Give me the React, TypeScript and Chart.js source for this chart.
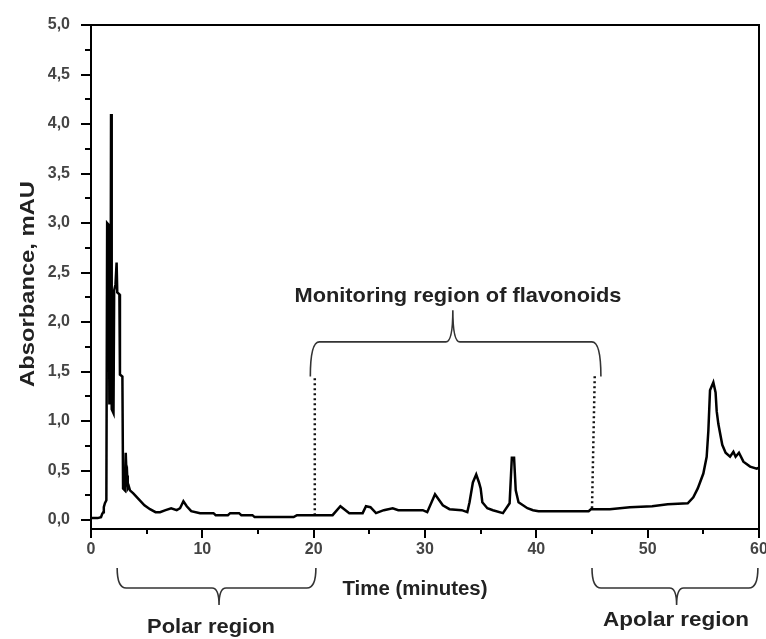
import React, { useEffect, useRef } from "react";
import { Chart, registerables } from "chart.js";

Chart.register(...registerables);

// ---- data ----
const timeMinutes = [
  0.0, 0.6, 0.9, 1.0, 1.1, 1.15, 1.25, 1.38, 1.45, 1.6, 1.65, 1.75, 1.8, 1.86, 2.02, 2.08, 2.2, 2.3, 2.36, 2.55,
  2.6, 2.82, 2.88, 3.05, 3.12, 3.2, 3.25, 3.3, 3.4, 3.5, 3.8, 4.3, 4.8, 5.3, 5.8, 6.2, 6.7, 7.2, 7.7,
  8.0, 8.3, 8.6, 9.0, 9.8, 11.0, 11.2, 12.3, 12.5, 13.3, 13.5, 14.5, 14.7, 18.2, 18.5, 21.7, 22.4, 23.2, 24.4, 24.7,
  25.1, 25.6, 26.3, 27.1, 27.6, 29.8, 30.2, 30.9, 31.6, 32.2, 33.3, 33.8, 34.0, 34.3, 34.6, 34.85, 35.0, 35.15, 35.6, 36.1,
  37.0, 37.6, 37.8, 38.0, 38.15, 38.4, 39.2, 39.7, 40.2, 44.7, 44.9, 46.6, 48.4, 50.4, 51.8, 53.6, 54.1, 54.5, 55.0, 55.3,
  55.45, 55.6, 55.9, 56.1, 56.2, 56.35, 56.7, 57.0, 57.4, 57.7, 57.9, 58.2, 58.6, 59.2, 59.8, 60.0,
];
const absorbance = [
  0.02, 0.02, 0.03, 0.06, 0.08, 0.13, 0.17, 0.2, 3.0, 2.98, 1.18, 1.18, 4.1, 1.12, 1.08, 2.32, 2.38, 2.6, 2.3, 2.28,
  1.47, 1.45, 0.32, 0.3, 0.68, 0.42, 0.45, 0.32, 0.34, 0.3, 0.27, 0.21, 0.15, 0.11, 0.08, 0.08, 0.1, 0.12, 0.1,
  0.12, 0.19, 0.14, 0.09, 0.07, 0.07, 0.05, 0.05, 0.07, 0.07, 0.05, 0.05, 0.03, 0.03, 0.05, 0.05, 0.14, 0.07, 0.07, 0.14,
  0.13, 0.07, 0.1, 0.12, 0.1, 0.1, 0.08, 0.26, 0.15, 0.11, 0.1, 0.08, 0.18, 0.38, 0.46, 0.38, 0.32, 0.18, 0.12, 0.1,
  0.07, 0.17, 0.63, 0.63, 0.3, 0.18, 0.12, 0.1, 0.09, 0.09, 0.11, 0.11, 0.13, 0.14, 0.16, 0.17, 0.23, 0.32, 0.47, 0.64,
  0.9, 1.31, 1.39, 1.29, 1.1, 0.97, 0.76, 0.68, 0.64, 0.69, 0.64, 0.68, 0.59, 0.54, 0.52, 0.53,
];

// dotted boundary markers of the flavonoid monitoring window
const markerStartT = [20.1, 20.1];
const markerStartV = [0.05, 1.45];
const markerEndT = [45.0, 45.25];
const markerEndV = [0.12, 1.48];

// ticks
const xMajorTicks = [0, 10, 20, 30, 40, 50, 60];
const xMinorTicks = [5, 15, 25, 35, 45, 55];
const yMajorTicks = [0, 0.5, 1, 1.5, 2, 2.5, 3, 3.5, 4, 4.5, 5];
const yMinorTicks = [0.25, 0.75, 1.25, 1.75, 2.25, 2.75, 3.25, 3.75, 4.25, 4.75];
const yTickLabels = ["0,0", "0,5", "1,0", "1,5", "2,0", "2,5", "3,0", "3,5", "4,0", "4,5", "5,0"];

// brace annotations (time ranges)
const monitoringRange = [19.7, 32.5, 45.8]; // start, tip, end
const monitoringLevels = [1.45, 1.8, 2.12]; // end, bar, tip (absorbance units)
const polarRange = [2.35, 11.5, 20.2];
const apolarRange = [45.0, 52.6, 59.9];

const labelTexts = {
  yTitle: "Absorbance, mAU",
  xTitle: "Time (minutes)",
  monitoring: "Monitoring region of flavonoids",
  polar: "Polar region",
  apolar: "Apolar region",
};

const FONT = '"Liberation Sans", Arial, sans-serif';

function fitText(
  ctx: CanvasRenderingContext2D,
  text: string,
  x: number,
  y: number,
  font: string,
  width: number,
  rotation = 0,
  baseline: CanvasTextBaseline = "alphabetic"
) {
  ctx.save();
  ctx.font = font;
  const w = ctx.measureText(text).width;
  ctx.translate(x, y);
  ctx.rotate(rotation);
  ctx.scale(width / w, 1);
  ctx.textAlign = "center";
  ctx.textBaseline = baseline;
  ctx.fillStyle = "#222";
  ctx.fillText(text, 0, 0);
  ctx.restore();
}

function brace(
  ctx: CanvasRenderingContext2D,
  x1: number,
  xc: number,
  x2: number,
  yEnd: number,
  yBar: number,
  yTip: number
) {
  const r = 9;
  const r2 = 7;
  ctx.beginPath();
  ctx.moveTo(x1, yEnd);
  ctx.quadraticCurveTo(x1, yBar, x1 + r, yBar);
  ctx.lineTo(xc - r2, yBar);
  ctx.quadraticCurveTo(xc, yBar, xc, yTip);
  ctx.quadraticCurveTo(xc, yBar, xc + r2, yBar);
  ctx.lineTo(x2 - r, yBar);
  ctx.quadraticCurveTo(x2, yBar, x2, yEnd);
  ctx.stroke();
}

const decorPlugin = {
  id: "decor",
  afterDraw(chart: any) {
    const { ctx, chartArea, scales } = chart;
    const xs = scales.x;
    const ys = scales.y;
    ctx.save();
    // frame top & right
    ctx.strokeStyle = "#000";
    ctx.lineWidth = 2;
    ctx.beginPath();
    ctx.moveTo(chartArea.left, chartArea.top);
    ctx.lineTo(chartArea.right, chartArea.top);
    ctx.lineTo(chartArea.right, chartArea.bottom);
    ctx.stroke();
    // tick marks
    ctx.beginPath();
    xMajorTicks.forEach((t) => {
      const px = Math.round(xs.getPixelForValue(t));
      ctx.moveTo(px, chartArea.bottom);
      ctx.lineTo(px, chartArea.bottom + 9);
    });
    xMinorTicks.forEach((t) => {
      const px = Math.round(xs.getPixelForValue(t));
      ctx.moveTo(px, chartArea.bottom);
      ctx.lineTo(px, chartArea.bottom + 5);
    });
    yMajorTicks.forEach((v) => {
      const py = Math.round(ys.getPixelForValue(v));
      ctx.moveTo(chartArea.left, py);
      ctx.lineTo(chartArea.left - 10, py);
    });
    yMinorTicks.forEach((v) => {
      const py = Math.round(ys.getPixelForValue(v));
      ctx.moveTo(chartArea.left, py);
      ctx.lineTo(chartArea.left - 6, py);
    });
    ctx.stroke();

    // braces
    ctx.strokeStyle = "#333";
    ctx.lineWidth = 1.6;
    brace(
      ctx,
      xs.getPixelForValue(monitoringRange[0]),
      xs.getPixelForValue(monitoringRange[1]),
      xs.getPixelForValue(monitoringRange[2]),
      ys.getPixelForValue(monitoringLevels[0]),
      ys.getPixelForValue(monitoringLevels[1]),
      ys.getPixelForValue(monitoringLevels[2])
    );
    const b = chartArea.bottom;
    brace(ctx, xs.getPixelForValue(polarRange[0]), xs.getPixelForValue(polarRange[1]), xs.getPixelForValue(polarRange[2]), b + 39, b + 59, b + 76);
    brace(ctx, xs.getPixelForValue(apolarRange[0]), xs.getPixelForValue(apolarRange[1]), xs.getPixelForValue(apolarRange[2]), b + 39, b + 59, b + 76);

    // texts
    fitText(ctx, labelTexts.monitoring, 458, 302, `bold 21px ${FONT}`, 327);
    fitText(ctx, labelTexts.xTitle, 415, 595, `bold 20px ${FONT}`, 145);
    fitText(ctx, labelTexts.polar, 211, 633, `bold 20px ${FONT}`, 128);
    fitText(ctx, labelTexts.apolar, 676, 626, `bold 20px ${FONT}`, 146);
    fitText(ctx, labelTexts.yTitle, 28, 284, `bold 20px ${FONT}`, 206, -Math.PI / 2, "middle");
    ctx.restore();
  },
};

export default function App() {
  const ref = useRef<HTMLCanvasElement | null>(null);
  useEffect(() => {
    document.body.style.margin = "0";
    const canvas = ref.current;
    if (!canvas) return;
    const trace = timeMinutes.map((t, i) => ({ x: t, y: absorbance[i] }));
    const m1 = markerStartT.map((t, i) => ({ x: t, y: markerStartV[i] }));
    const m2 = markerEndT.map((t, i) => ({ x: t, y: markerEndV[i] }));
    const chart = new Chart(canvas, {
      type: "line",
      data: {
        datasets: [
          {
            data: trace,
            borderColor: "#000",
            borderWidth: 2.5,
            pointRadius: 0,
            tension: 0,
            fill: false,
          },
          {
            data: m1,
            borderColor: "#111",
            borderWidth: 2.5,
            borderDash: [2, 3],
            pointRadius: 0,
            fill: false,
          },
          {
            data: m2,
            borderColor: "#111",
            borderWidth: 2.5,
            borderDash: [2, 3],
            pointRadius: 0,
            fill: false,
          },
        ],
      },
      options: {
        animation: false,
        responsive: false,
        maintainAspectRatio: false,
        layout: { padding: { left: 0, right: 7, top: 25, bottom: 0 } },
        plugins: { legend: { display: false }, tooltip: { enabled: false } },
        scales: {
          x: {
            type: "linear",
            min: 0,
            max: 60,
            afterBuildTicks: (s: any) => {
              s.ticks = xMajorTicks.map((v) => ({ value: v }));
            },
            afterFit: (s: any) => {
              s.height = 110;
              s.paddingLeft = 0;
              s.paddingRight = 0;
            },
            grid: { display: true, drawOnChartArea: false, drawTicks: false },
            border: { display: true, color: "#000", width: 2 },
            ticks: {
              padding: 11,
              color: "#444",
              font: { family: FONT, size: 16, weight: "bold" },
              maxRotation: 0,
              autoSkip: false,
            },
          },
          y: {
            type: "linear",
            min: -0.09,
            max: 5.0,
            afterBuildTicks: (s: any) => {
              s.ticks = yMajorTicks.map((v) => ({ value: v }));
            },
            afterFit: (s: any) => {
              s.width = 91;
              s.paddingTop = 0;
              s.paddingBottom = 0;
            },
            grid: { display: true, drawOnChartArea: false, drawTicks: false },
            border: { display: true, color: "#000", width: 2 },
            ticks: {
              padding: 21,
              color: "#444",
              font: { family: FONT, size: 16, weight: "bold" },
              autoSkip: false,
              callback: (_v: any, i: number) => yTickLabels[i],
            },
          },
        },
      },
      plugins: [decorPlugin],
    });
    return () => chart.destroy();
  }, []);
  return <canvas ref={ref} width={766} height={639} style={{ display: "block" }} />;
}
